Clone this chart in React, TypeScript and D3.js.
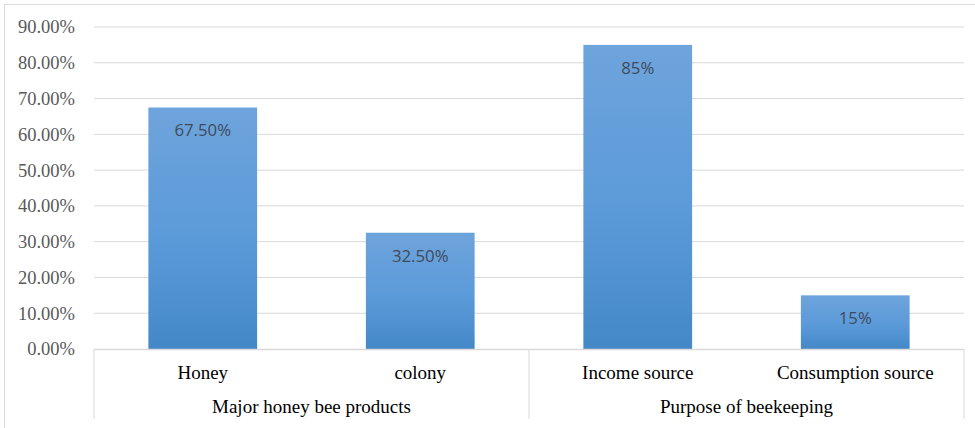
import React from "react";
import * as d3 from "d3";

const groups = ["Major honey bee products", "Purpose of beekeeping"];
const categories = ["Honey", "colony", "Income source", "Consumption source"];
const categoryGroup = [0, 0, 1, 1];
const values = [0.675, 0.325, 0.85, 0.15];
const valueLabels = ["67.50%", "32.50%", "85%", "15%"];
const yTicks = [0, 0.1, 0.2, 0.3, 0.4, 0.5, 0.6, 0.7, 0.8, 0.9];

export default function App() {
  const W = 975, H = 428;
  const left = 94, right = 964, top = 27, bottom = 349;
  const x = d3.scaleBand<string>().domain(categories).range([left, right]).paddingInner(0.5).paddingOuter(0.25);
  const xOuter = d3.scaleBand<string>().domain(categories).range([left, right]);
  const y = d3.scaleLinear().domain([0, 0.9]).range([bottom, top]);
  const fmt = d3.format(".2%");
  const grid = "#d9d9d9";

  const groupBounds = groups.map((g, gi) => {
    const cats = categories.filter((_, i) => categoryGroup[i] === gi);
    const x0 = xOuter(cats[0])!;
    const x1 = xOuter(cats[cats.length - 1])! + xOuter.bandwidth();
    return { g, x0, x1 };
  });

  return (
    <svg width={W} height={H} style={{ position: "absolute", left: 0, top: 0, background: "#fff" }}>
      <defs>
        <linearGradient id="barGrad" x1="0" y1="0" x2="0" y2="1">
          <stop offset="0%" stopColor="#6ea4dc" />
          <stop offset="55%" stopColor="#5b9ad9" />
          <stop offset="100%" stopColor="#4488c8" />
        </linearGradient>
      </defs>
      <rect x={4.5} y={4.5} width={W + 10} height={H + 10} fill="#fff" stroke="#d9dde3" strokeWidth={1} />
      {yTicks.map((t) => (
        <g key={t}>
          {t > 0 && (
            <line x1={left} x2={right} y1={y(t)} y2={y(t)} stroke={grid} strokeWidth={1} />
          )}
          <text
            x={75}
            y={y(t)}
            dy="0.35em"
            textAnchor="end"
            fontFamily="'Liberation Serif', serif"
            fontSize={18.5}
            fill="#595959"
          >
            {fmt(t)}
          </text>
        </g>
      ))}
      {categories.map((c, i) => {
        const bx = x(c)!;
        const by = y(values[i]);
        return (
          <g key={c}>
            <rect x={bx} y={by} width={x.bandwidth()} height={bottom - by} fill="url(#barGrad)" />
            <text
              x={bx + x.bandwidth() / 2}
              y={by + 23}
              dy="0.35em"
              textAnchor="middle"
              fontFamily="'Open Sans', 'Liberation Sans', sans-serif"
              fontSize={16.8}
              fill="#404a5a"
            >
              {valueLabels[i]}
            </text>
            <text
              x={xOuter(c)! + xOuter.bandwidth() / 2}
              y={372.5}
              dy="0.35em"
              textAnchor="middle"
              fontFamily="'Liberation Serif', serif"
              fontSize={19}
              fill="#000"
            >
              {c}
            </text>
          </g>
        );
      })}
      <line x1={left} x2={right} y1={bottom + 0.5} y2={bottom + 0.5} stroke={grid} strokeWidth={1.5} />
      {[groupBounds[0].x0, groupBounds[0].x1, groupBounds[1].x1].map((gx, i) => (
        <line key={i} x1={gx} x2={gx} y1={bottom} y2={419} stroke={grid} strokeWidth={1} />
      ))}
      {groupBounds.map((b) => (
        <text
          key={b.g}
          x={(b.x0 + b.x1) / 2}
          y={406.5}
          dy="0.35em"
          textAnchor="middle"
          fontFamily="'Liberation Serif', serif"
          fontSize={19}
          fill="#000"
        >
          {b.g}
        </text>
      ))}
    </svg>
  );
}
